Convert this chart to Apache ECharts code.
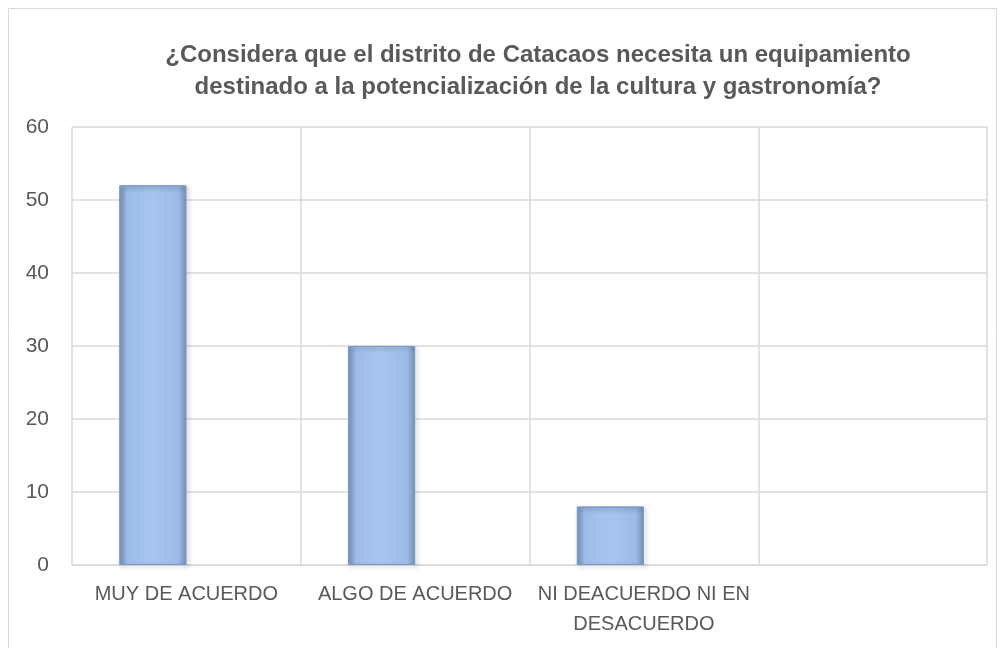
<!DOCTYPE html>
<html>
<head>
<meta charset="utf-8">
<script src="https://cdn.jsdelivr.net/npm/echarts@6/dist/echarts.min.js"></script>
<style>
  html, body { margin: 0; padding: 0; background: #fff; }
  #chart { width: 1001px; height: 648px; }
</style>
</head>
<body>
<div id="chart"></div>
<script>
const titleText = '¿Considera que el distrito de Catacaos necesita un equipamiento\ndestinado a la potencialización de la cultura y gastronomía?';
const categories = ['MUY DE ACUERDO', 'ALGO DE ACUERDO', 'NI DEACUERDO NI EN\nDESACUERDO', ''];
const respuestas = [52, 30, 8, null];
const vacio = [null, null, null, null];
const yTicks = { min: 0, max: 60, interval: 10 };

(function () {
  const myChart = echarts.init(document.getElementById('chart'));

  // relleno de las barras, bordes más oscuros
  const barFill = new echarts.graphic.LinearGradient(0, 0, 1, 0, [
    { offset: 0, color: '#7e9bc6' },
    { offset: 0.12, color: '#9dbde9' },
    { offset: 0.5, color: '#a6c5ee' },
    { offset: 0.88, color: '#9bbbe6' },
    { offset: 1, color: '#7591ba' },
  ]);

  const option = {
    title: {
      text: titleText,
      left: 533,
      textAlign: 'center',
      top: 34,
      textStyle: {
        fontFamily: 'Liberation Sans',
        fontSize: 24,
        fontWeight: 'bold',
        color: '#595959',
        lineHeight: 32,
      },
    },
    graphic: [
      {
        type: 'rect',
        shape: { x: 8.5, y: 8.5, width: 988, height: 660 },
        style: { fill: 'none', stroke: '#d9d9d9', lineWidth: 1 },
        silent: true,
      },
    ],
    grid: {
      left: 72,
      right: 14,
      top: 127,
      bottom: 83,
    },
    xAxis: {
      type: 'category',
      data: categories,
      axisTick: { show: false },
      axisLine: {
        lineStyle: { color: '#d9d9d9', width: 1.5 },
      },
      splitLine: {
        show: true,
        lineStyle: { color: '#d9d9d9', width: 1.5 },
      },
      axisLabel: {
        color: '#595959',
        fontSize: 20,
        fontFamily: 'Liberation Sans',
        lineHeight: 30,
        margin: 14,
        interval: 0,
      },
    },
    yAxis: {
      type: 'value',
      min: yTicks.min,
      max: yTicks.max,
      interval: yTicks.interval,
      axisLine: { show: false },
      axisTick: { show: false },
      axisLabel: {
        color: '#595959',
        fontSize: 21,
        fontFamily: 'Liberation Sans',
        margin: 23,
      },
      splitLine: {
        lineStyle: { color: '#d9d9d9', width: 1.5 },
      },
    },
    series: [
      {
        name: 'Respuestas',
        type: 'bar',
        data: respuestas,
        barWidth: 67,
        barGap: '0%',
        itemStyle: {
          color: barFill,
          borderColor: '#7d98c2',
          borderWidth: 1,
          shadowColor: 'rgba(0,0,0,0.35)',
          shadowBlur: 4,
          shadowOffsetX: 2,
          shadowOffsetY: 2,
        },
      },
      {
        name: 'Vacío',
        type: 'bar',
        data: vacio,
        barWidth: 67,
      },
    ],
  };

  myChart.setOption(option);

  window.addEventListener('resize', () => {
    myChart.resize();
  });
})();
</script>
</body>
</html>
